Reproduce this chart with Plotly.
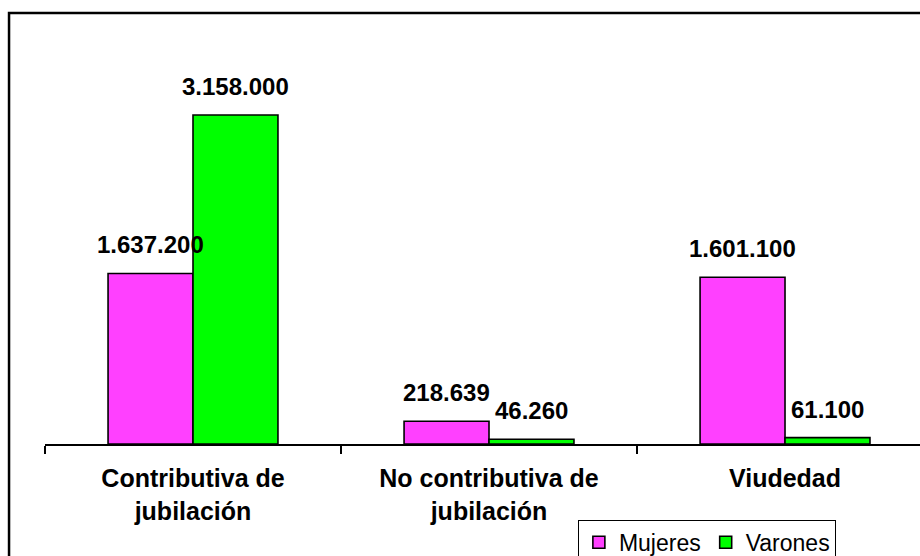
import plotly.graph_objects as go

categories = ["Contributiva de<br>jubilación", "No contributiva de<br>jubilación", "Viudedad"]
mujeres = [1637200, 218639, 1601100]
varones = [3158000, 46260, 61100]
series_names = ["Mujeres", "Varones"]
colors = ["#FF40FF", "#00FF00"]

def fmt(v):
    return f"{v:,}".replace(",", ".")

fig = go.Figure()
for name, vals, col in zip(series_names, [mujeres, varones], colors):
    fig.add_trace(go.Bar(
        x=categories, y=vals, name=name,
        marker=dict(color=col, line=dict(color="black", width=1.6)),
    ))

annotations = []
for vals, shift in zip([mujeres, varones], [-42.5, 42.5]):
    for c, v in zip(categories, vals):
        annotations.append(dict(
            x=c, y=v, text=fmt(v), showarrow=False,
            xanchor="center", yanchor="bottom", xshift=shift, yshift=13,
            font=dict(family="Liberation Sans", size=24, color="black", weight="bold"),
        ))

fig.update_layout(
    width=920, height=556,
    margin=dict(l=45, r=0, t=13, b=112, autoexpand=False),
    paper_bgcolor="white", plot_bgcolor="white",
    barmode="group", bargap=0.426, bargroupgap=0,
    annotations=annotations,
    showlegend=True,
    legend=dict(
        orientation="h", x=0.609, y=-0.176, xanchor="left", yanchor="top",
        bordercolor="black", borderwidth=1, bgcolor="white",
        font=dict(family="Liberation Sans", size=23, color="black"),
        itemwidth=30, tracegroupgap=0,
    ),
    xaxis=dict(
        range=[-0.5, 2.456], showline=True, linecolor="black", linewidth=2,
        ticks="outside", tickson="boundaries", ticklen=8, tickcolor="black", tickwidth=1.5,
        ticklabelstandoff=11,
        showgrid=False, zeroline=False,
        tickfont=dict(family="Liberation Sans", size=25, color="black", weight="bold"),
    ),
    yaxis=dict(
        range=[0, 4137000], visible=False, showgrid=False, zeroline=False,
    ),
    shapes=[dict(
        type="rect", xref="paper", yref="paper",
        x0=-0.0411, x1=1.05, y0=-0.5, y1=1.0,
        line=dict(color="black", width=2.5), fillcolor="rgba(0,0,0,0)", layer="above",
    )],
)

fig.write_html("out.html", config={"displayModeBar": False},
               post_script="document.body.style.margin='0';")
